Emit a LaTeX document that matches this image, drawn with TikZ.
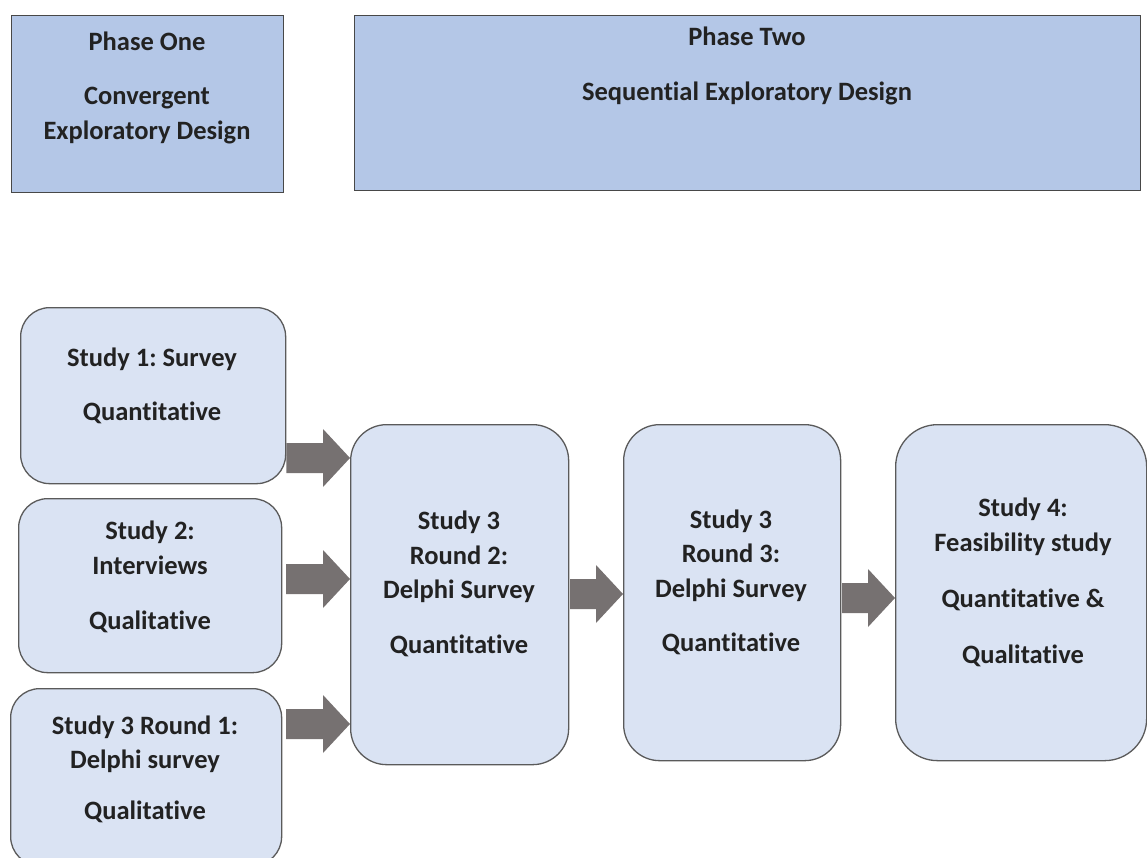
\documentclass[tikz,border=0pt]{standalone}
\usepackage{fontspec}
\setmainfont{Carlito}[Ligatures=NoCommon, RawFeature={-calt;-dlig}]
\usetikzlibrary{calc}
\definecolor{phasefill}{HTML}{B4C7E7}
\definecolor{studyfill}{HTML}{DAE3F3}
\definecolor{arrowgray}{HTML}{767171}
\definecolor{edgegray}{HTML}{5A5A5A}
\definecolor{textdark}{HTML}{222222}
\tikzset{
  phasebox/.style={draw=edgegray!80!black, line width=1.1pt, fill=phasefill,
    anchor=north west, inner sep=0pt},
  studybox/.style={draw=edgegray, line width=1.3pt, fill=studyfill,
    anchor=north west, inner sep=0pt},
  txt/.style={anchor=base, inner sep=0pt, text=textdark,
    font=\frenchspacing\bfseries\fontsize{26.5}{30}\selectfont},
  blockarrow/.style={fill=arrowgray, draw=none}
}
% block arrow from the first coordinate to the second (same height)
\newcommand\blockarrow[2]{%
  \path let \p1=(#1), \p2=(#2) in [blockarrow]
    (\x1,\y1+15pt) -- (\x2-27pt,\y1+15pt) -- (\x2-27pt,\y1+29pt) --
    (\x2,\y1) -- (\x2-27pt,\y1-29pt) -- (\x2-27pt,\y1-15pt) --
    (\x1,\y1-15pt) -- cycle;}
\begin{document}
\begin{tikzpicture}[x=1pt,y=-1pt]
\useasboundingbox (0,0) rectangle (1147,858);

% phase headers
\node[phasebox, minimum width=272pt, minimum height=177pt] (p1) at (11,15) {};
\node[phasebox, minimum width=786pt, minimum height=175pt] (p2) at (354,15) {};
\node[txt] (p1a) at (147,51) {Phase One};
\node[txt] (p1b) at (147,105) {Convergent};
\node[txt] (p1c) at (147,140) {Exploratory Design};
\node[txt] (p2a) at (747,46) {Phase Two};
\node[txt] (p2b) at (747,101) {Sequential Exploratory Design};

% studies
\node[studybox, rounded corners=29pt, minimum width=265pt, minimum height=176pt] (s1) at (20,307) {};
\node[studybox, rounded corners=29pt, minimum width=263pt, minimum height=174pt] (s2) at (18,498) {};
\node[studybox, rounded corners=29pt, minimum width=271pt, minimum height=177pt] (s3) at (10,688) {};
\node[studybox, rounded corners=36pt, minimum width=218pt, minimum height=340pt] (r2) at (350,424) {};
\node[studybox, rounded corners=36pt, minimum width=217pt, minimum height=336pt] (r3) at (623,424) {};
\node[studybox, rounded corners=42pt, minimum width=251pt, minimum height=336pt] (s4) at (895,424) {};

\node[txt] (s1a) at (152,366) {Study 1: Survey};
\node[txt] (s1b) at (152,420) {Quantitative};

\node[txt] (s2a) at (150,539) {Study 2:};
\node[txt] (s2b) at (150,574) {Interviews};
\node[txt] (s2c) at (150,629) {Qualitative};

\node[txt] (s3a) at (145,734) {Study 3 Round 1:};
\node[txt] (s3b) at (145,768) {Delphi survey};
\node[txt] (s3c) at (145,819) {Qualitative};

\node[txt] (r2a) at (459,529) {Study 3};
\node[txt] (r2b) at (459,564) {Round 2:};
\node[txt] (r2c) at (459,598) {Delphi Survey};
\node[txt] (r2d) at (459,653) {Quantitative};

\node[txt] (r3a) at (731,528) {Study 3};
\node[txt] (r3b) at (731,562) {Round 3:};
\node[txt] (r3c) at (731,597) {Delphi Survey};
\node[txt] (r3d) at (731,651) {Quantitative};

\node[txt] (s4a) at (1023,516) {Study 4:};
\node[txt] (s4b) at (1023,551) {Feasibility study};
\node[txt] (s4c) at (1023,607) {Quantitative \&};
\node[txt] (s4d) at (1023,663) {Qualitative};

% connector end points
\coordinate (a1s) at (s1.east |- 0,458);
\coordinate (a1e) at (r2.west |- 0,458);
\coordinate (a2s) at (286,579);
\coordinate (a2e) at (r2.west |- 0,579);
\coordinate (a3s) at (286,724);
\coordinate (a3e) at (r2.west |- 0,724);
\coordinate (a4s) at (570,594);
\coordinate (a4e) at (r3.west |- 0,594);
\coordinate (a5s) at (842,598);
\coordinate (a5e) at (s4.west |- 0,598);

\blockarrow{a1s}{a1e}
\blockarrow{a2s}{a2e}
\blockarrow{a3s}{a3e}
\blockarrow{a4s}{a4e}
\blockarrow{a5s}{a5e}
\end{tikzpicture}
\end{document}
